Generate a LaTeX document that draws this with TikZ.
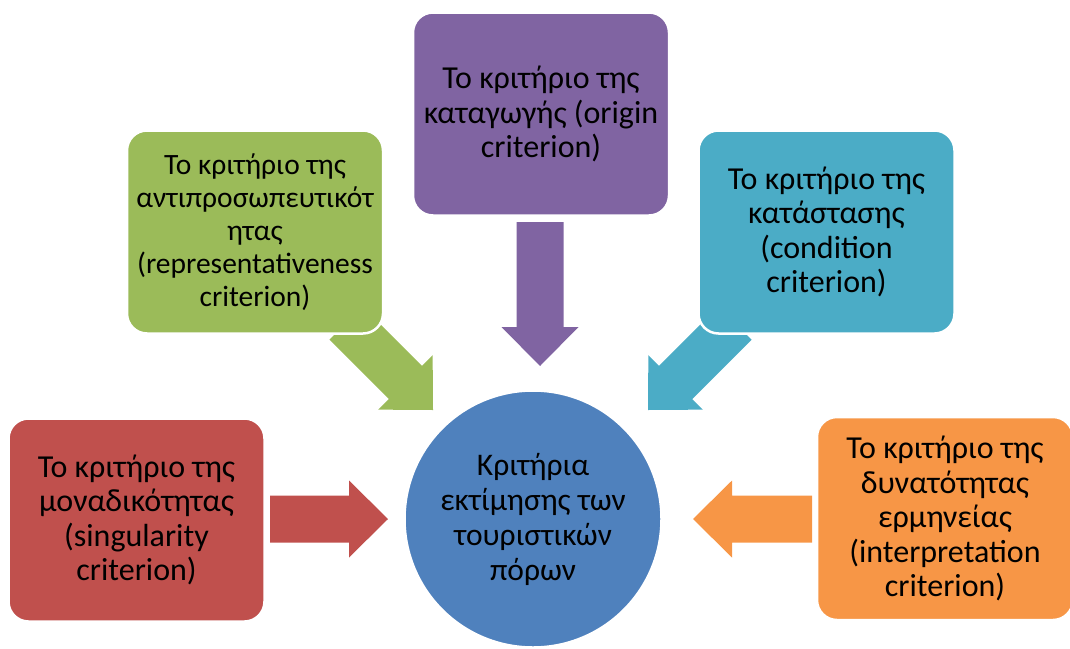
\documentclass[tikz,border=0pt]{standalone}
\usepackage{fontspec}
\setmainfont{Carlito}
\definecolor{cred}{HTML}{C0504D}
\definecolor{cgreen}{HTML}{9BBB59}
\definecolor{cpurple}{HTML}{8064A2}
\definecolor{ccyan}{HTML}{4BACC6}
\definecolor{corange}{HTML}{F79646}
\definecolor{cblue}{HTML}{4F81BD}
\tikzset{
  crit/.style={rectangle, rounded corners=20pt, minimum width=256pt, minimum height=203pt,
    draw=white, line width=2.5pt, align=center, inner sep=1pt,
    font=\fontsize{32}{34.5}\selectfont, text=black},
  hub/.style={circle, minimum size=257pt, inner sep=0pt, draw=white, line width=2.5pt, fill=cblue,
    align=center, font=\fontsize{31.5}{35}\selectfont, text=black}
}
\newcommand{\blockarr}[2]{% #1 = shaft length, #2 = fill colour
  \fill[#2] (-#1,-23.5) -- (-39,-23.5) -- (-39,-38.5) -- (0,0) -- (-39,38.5) -- (-39,23.5) -- (-#1,23.5) -- cycle;}
\begin{document}
\begin{tikzpicture}[x=1pt,y=-1pt]
\useasboundingbox (0,0) rectangle (1070,648);
% block arrows (behind the boxes)
\coordinate (tipred) at (388,519);
\coordinate (tipgreen) at (433,410);
\coordinate (tippurple) at (540,366);
\coordinate (tipcyan) at (648,410);
\coordinate (tiporange) at (693,519);
\begin{scope}[shift={(tipred)}]\blockarr{118}{cred}\end{scope}
\begin{scope}[shift={(tipgreen)},rotate=-45]\blockarr{123}{cgreen}\end{scope}
\begin{scope}[shift={(tippurple)},rotate=-90]\blockarr{144}{cpurple}\end{scope}
\begin{scope}[shift={(tipcyan)},rotate=-135]\blockarr{123}{ccyan}\end{scope}
\begin{scope}[shift={(tiporange)},rotate=180]\blockarr{119}{corange}\end{scope}
% boxes
\node[crit, fill=cred] (red) at (136.5,520)
  {Το κριτήριο της\\μοναδικότητας\\(singularity\\criterion)};
\node[crit, fill=cgreen, font=\fontsize{29.5}{33}\selectfont] (green) at (255,232)
  {Το κριτήριο της\\αντιπροσωπευτικότ\\ητας\\(representativeness\\criterion)};
\node[crit, fill=cpurple] (purple) at (541,114)
  {Το κριτήριο της\\καταγωγής (origin\\criterion)};
\node[crit, fill=ccyan] (cyan) at (826.5,232)
  {Το κριτήριο της\\κατάστασης\\(condition\\criterion)};
\node[crit, fill=corange] (orange) at (945,518.5)
  {Το κριτήριο της\\δυνατότητας\\ερμηνείας\\(interpretation\\criterion)};
\node[hub] (hub) at (533,519)
  {Κριτήρια\\εκτίμησης των\\τουριστικών\\πόρων};
\end{tikzpicture}
\end{document}
